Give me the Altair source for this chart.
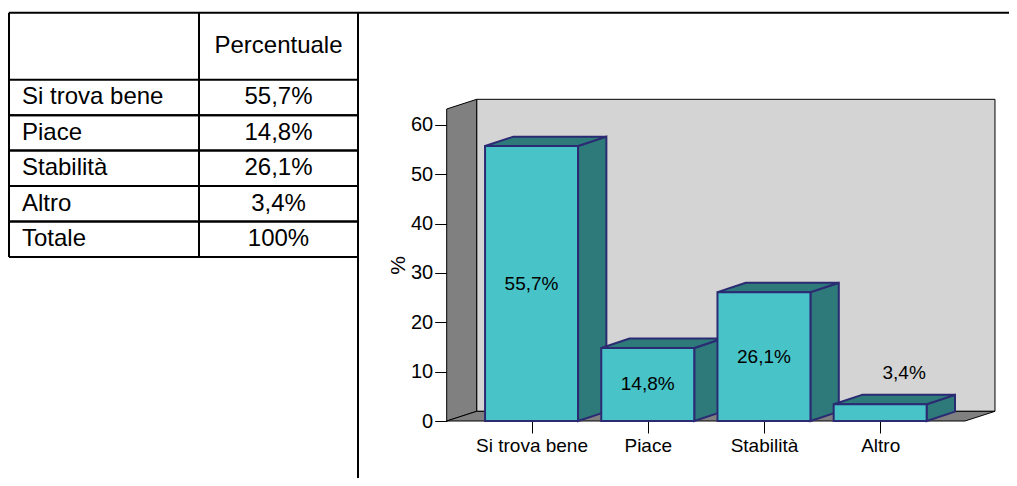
import json
import altair as alt
import pandas as pd

# ---------------- data ----------------
categories = ["Si trova bene", "Piace", "Stabilità", "Altro"]
values = [55.7, 14.8, 26.1, 3.4]
value_labels = ["55,7%", "14,8%", "26,1%", "3,4%"]

table_header = "Percentuale"
table_rows = ["Si trova bene", "Piace", "Stabilità", "Altro", "Totale"]
table_values = ["55,7%", "14,8%", "26,1%", "3,4%", "100%"]

y_ticks = [0, 10, 20, 30, 40, 50, 60]
y_title = "%"

# ---------------- style ----------------
FONT = "Liberation Sans"
FRONT = "#48C3C7"
DARK = "#2E7979"
EDGE = "#2B2B73"
WALL = "#D4D4D4"
SIDE = "#808080"

W, H = 1001, 470
X_DOM = [-0.73, 3.73]
X_RNG = [438.7, 957.0]
Y_DOM = [0, 63.2]
Y_RNG = [413.0, 101.0]
HALF = 0.40          # half bar width (category units)
BDX, BDV = 0.244, 1.9   # bar depth offset
WDX, WDV = 0.258, 1.96  # wall depth offset

xs = alt.Scale(domain=X_DOM, range=X_RNG, nice=False, zero=False)
ys = alt.Scale(domain=Y_DOM, range=Y_RNG, nice=False, zero=False)

label_expr = json.dumps(categories, ensure_ascii=False) + "[datum.value]"
xaxis = alt.Axis(values=list(range(len(categories))), labelExpr=label_expr, title=None,
                 domain=False, grid=False, ticks=True, tickSize=12, tickColor="black",
                 tickWidth=1, labelFontSize=19, labelColor="black", labelPadding=3,
                 labelFlush=False, labelOverlap=False, labelBound=False,
                 offset=-(H - Y_RNG[0]), orient="bottom")
yaxis = alt.Axis(values=y_ticks, title=y_title, domain=False, grid=False, ticks=True,
                 tickSize=12, tickColor="black", tickWidth=1, labelFontSize=20,
                 labelColor="black", labelPadding=2, titleFontSize=21,
                 titleFontWeight="normal", titleColor="black", titlePadding=2,
                 labelFlush=False, labelOverlap=False, offset=-X_RNG[0], orient="left")


def X(field):
    return alt.X(field, scale=xs, axis=xaxis)


def Y(field):
    return alt.Y(field, scale=ys, axis=yaxis)


# ---------------- frame (walls + floor) ----------------
back_df = pd.DataFrame({"x0": [X_DOM[0] + WDX], "x1": [X_DOM[1] + WDX],
                        "y0": [WDV], "y1": [Y_DOM[1] + WDV]})
back = alt.Chart(back_df).mark_rect(fill=WALL, stroke="black", strokeWidth=1).encode(
    x=X("x0:Q"), x2="x1:Q", y=Y("y0:Q"), y2="y1:Q")

side_df = pd.DataFrame({"x": [X_DOM[0], X_DOM[0] + WDX],
                        "top": [Y_DOM[1], Y_DOM[1] + WDV],
                        "bot": [0, WDV]})
side = alt.Chart(side_df).mark_area(fill=SIDE, stroke="black", strokeWidth=1,
                                    opacity=1, fillOpacity=1).encode(
    x=X("x:Q"), y=Y("top:Q"), y2="bot:Q")

floor_df = pd.DataFrame({"y": [0, WDV], "xl": [X_DOM[0], X_DOM[0] + WDX],
                         "xr": [X_DOM[1], X_DOM[1] + WDX]})
floor = alt.Chart(floor_df).mark_area(fill=SIDE, stroke="black", strokeWidth=1,
                                      orient="horizontal").encode(
    y=Y("y:Q"), x=X("xl:Q"), x2="xr:Q")

# ---------------- bars ----------------
bars_df = pd.DataFrame({"cat": categories, "idx": list(range(len(categories))),
                        "value": values, "label": value_labels})

side_rows, top_rows = [], []
for i, (c, v) in enumerate(zip(categories, values)):
    side_rows.append({"cat": c, "x": i + HALF, "top": v, "bot": 0})
    side_rows.append({"cat": c, "x": i + HALF + BDX, "top": v + BDV, "bot": BDV})
    top_rows.append({"cat": c, "y": v, "xl": i - HALF, "xr": i + HALF})
    top_rows.append({"cat": c, "y": v + BDV, "xl": i - HALF + BDX, "xr": i + HALF + BDX})

bar_sides = alt.Chart(pd.DataFrame(side_rows)).mark_area(
    fill=DARK, stroke=EDGE, strokeWidth=2, strokeJoin="miter").encode(
    x=X("x:Q"), y=Y("top:Q"), y2="bot:Q", detail="cat:N")

bar_tops = alt.Chart(pd.DataFrame(top_rows)).mark_area(
    fill=DARK, stroke=EDGE, strokeWidth=2, orient="horizontal", strokeJoin="miter").encode(
    y=Y("y:Q"), x=X("xl:Q"), x2="xr:Q", detail="cat:N")

bar_fronts = alt.Chart(bars_df).transform_calculate(
    x0=f"datum.idx - {HALF}", x1=f"datum.idx + {HALF}", base="0"
).mark_rect(fill=FRONT, stroke=EDGE, strokeWidth=2).encode(
    x=X("x0:Q"), x2="x1:Q", y=Y("value:Q"), y2="base:Q")

labels_in = alt.Chart(bars_df).transform_filter("datum.value >= 10").transform_calculate(
    mid="datum.value / 2"
).mark_text(fontSize=19, color="black", baseline="middle", align="center").encode(
    x=X("idx:Q"), y=Y("mid:Q"), text="label:N")

labels_out = alt.Chart(bars_df).transform_filter("datum.value < 10").mark_text(
    fontSize=19, color="black", baseline="middle", align="center", dx=24, dy=-31).encode(
    x=X("idx:Q"), y=Y("value:Q"), text="label:N")

bar_group = alt.layer(back, side, floor, bar_sides, bar_tops, bar_fronts,
                      labels_in, labels_out)

# ---------------- table ----------------
tbl_df = pd.DataFrame({"row": table_rows, "val": table_values})
ROW_RANGE = [71.7, 249.0]
TL, TM, TR, TT = 1, 191, 350, 4.7


def TY(band_pos=None):
    sc = alt.Scale(type="band", domain=table_rows, range=ROW_RANGE,
                   paddingInner=0, paddingOuter=0)
    if band_pos is None:
        return alt.Y("row:N", scale=sc, axis=None)
    return alt.Y("row:N", scale=sc, axis=None, bandPosition=band_pos)


row_text = alt.Chart(tbl_df).mark_text(align="left", baseline="middle", fontSize=24,
                                       color="black").encode(
    x=alt.value(14), y=TY(), text="row:N")
val_text = alt.Chart(tbl_df).mark_text(align="center", baseline="middle", fontSize=24,
                                       color="black").encode(
    x=alt.value((TM + TR) / 2), y=TY(), text="val:N")
head_text = alt.Chart(pd.DataFrame({"h": [table_header]})).mark_text(
    align="center", baseline="middle", fontSize=24, color="black").encode(
    x=alt.value((TM + TR) / 2), y=alt.value((TT + ROW_RANGE[0]) / 2), text="h:N")

row_lines_top = alt.Chart(tbl_df).mark_rule(color="black", strokeWidth=2).encode(
    x=alt.value(TL), x2=alt.value(TR), y=TY(0))
row_lines_bot = alt.Chart(tbl_df).mark_rule(color="black", strokeWidth=2).encode(
    x=alt.value(TL), x2=alt.value(TR), y=TY(1))

one = pd.DataFrame({"a": [0]})
top_line = alt.Chart(one).mark_rule(color="black", strokeWidth=2).encode(
    x=alt.value(TL), x2=alt.value(W), y=alt.value(TT))
vl_left = alt.Chart(one).mark_rule(color="black", strokeWidth=2).encode(
    x=alt.value(TL), y=alt.value(TT), y2=alt.value(ROW_RANGE[1]))
vl_mid = alt.Chart(one).mark_rule(color="black", strokeWidth=2).encode(
    x=alt.value(TM), y=alt.value(TT), y2=alt.value(ROW_RANGE[1]))
vl_right = alt.Chart(one).mark_rule(color="black", strokeWidth=2).encode(
    x=alt.value(TR), y=alt.value(TT), y2=alt.value(H))

table_group = alt.layer(row_lines_top, row_lines_bot, top_line, vl_left, vl_mid, vl_right,
                        head_text, row_text, val_text)

chart = alt.layer(table_group, bar_group).resolve_scale(
    x="independent", y="independent"
).properties(
    width=W, height=H, padding=0, autosize=alt.AutoSizeParams(type="none")
).configure(font=FONT).configure_view(stroke="transparent")

chart.save("out.html", embed_options={"renderer": "svg", "actions": False})
